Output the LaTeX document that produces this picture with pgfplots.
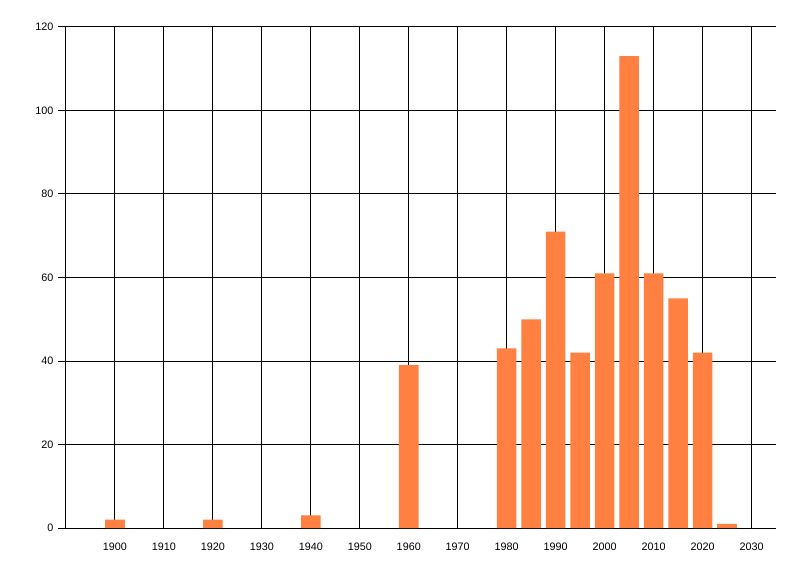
\documentclass[border=0pt]{standalone}
\usepackage{fontspec}
\setmainfont{Liberation Sans}
\usepackage{pgfplots}
\pgfplotsset{compat=1.18}
\definecolor{barorange}{HTML}{FF8040}
\begin{document}
\begin{tikzpicture}[x=1pt,y=1pt]
\path[use as bounding box] (-66,-48) rectangle (734,528);
\begin{axis}[
  at={(0,0)}, anchor=origin,
  scale only axis,
  width=710pt, height=501pt,
  xmin=1890, xmax=2035,
  ymin=0, ymax=120,
  axis x line*=bottom,
  axis y line*=left,
  axis line style={black, line width=1pt},
  xtick={1900,1910,...,2030},
  ytick={0,20,...,120},
  grid=major,
  grid style={black, line width=1pt},
  xtick style={draw=none},
  ytick style={black, line width=1pt},
  tick align=outside,
  major tick length=8pt,
  tick label style={font=\fontsize{10.8}{12}\selectfont},
  /pgf/number format/assume math mode=true,
  /pgf/number format/1000 sep={},
  xticklabel style={yshift=-3pt},
  yticklabel style={xshift=-1pt},
  clip=false,
]
\addplot[ybar, bar width=4, fill=barorange, draw=none] coordinates {
(1900,2) (1920,2) (1940,3) (1960,39) (1980,43) (1985,50) (1990,71) (1995,42)
(2000,61) (2005,113) (2010,61) (2015,55) (2020,42) (2025,1)
};
\end{axis}
\end{tikzpicture}
\end{document}
